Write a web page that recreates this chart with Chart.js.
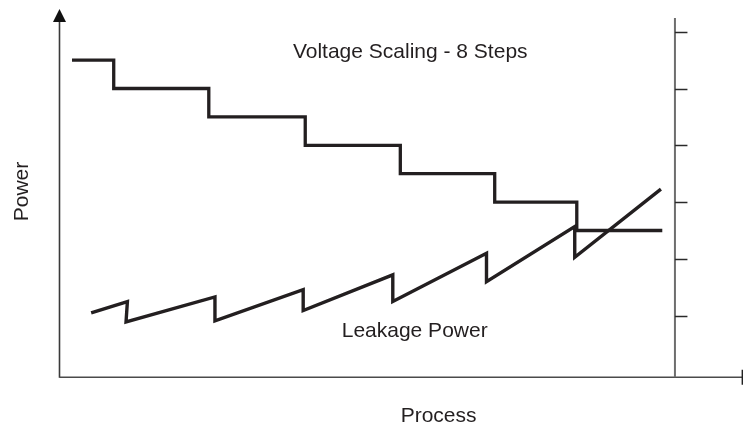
<!DOCTYPE html>
<html>
<head>
<meta charset="utf-8">
<script src="https://cdn.jsdelivr.net/npm/chart.js@4"></script>
<style>
  html, body { margin: 0; padding: 0; background: #ffffff; }
  #wrap { width: 744px; height: 430px; }
</style>
</head>
<body>
<div id="wrap"><canvas id="c" width="744" height="430"></canvas></div>
<script>
// ---- data (x: process, 0..100 along the x axis; y: power, in right-axis tick units) ----
const voltageX = [1.9, 8.0, 21.9, 36.0, 49.9, 63.7, 75.7, 88.2];
const voltageY = [5.5, 5.0, 4.5, 4.0, 3.5, 3.0, 2.5, 2.5];

const leakX = [4.7, 10.0, 9.8, 22.8, 22.8, 35.7, 35.7, 48.8, 48.8, 62.5, 62.5, 75.4, 75.4, 88.0];
const leakY = [1.05, 1.25, 0.89, 1.33, 0.91, 1.46, 1.09, 1.72, 1.25, 2.10, 1.60, 2.57, 2.03, 3.23];

const rightAxisX = 90.05;
const rightAxisTop = 6.24;
const rightTicks = [1, 2, 3, 4, 5, 6];

const titleText = 'Voltage Scaling - 8 Steps';
const leakText = 'Leakage Power';
const xTitle = 'Process';
const yTitle = 'Power';

const FONT = '"Liberation Sans", Arial, Helvetica, sans-serif';
const INK = '#231f20';

function pts(xs, ys) { return xs.map((x, i) => ({ x: x, y: ys[i] })); }

const decor = {
  id: 'decor',
  afterDraw(chart) {
    const ctx = chart.ctx;
    const xs = chart.scales.x, ys = chart.scales.y;
    const X = v => xs.getPixelForValue(v);
    const Y = v => ys.getPixelForValue(v);
    const a = chart.chartArea;
    ctx.save();
    ctx.lineCap = 'butt';

    // left axis with arrow
    const lx = a.left + 0.5;
    ctx.strokeStyle = '#3a3a3a';
    ctx.lineWidth = 1.6;
    ctx.beginPath();
    ctx.moveTo(lx, a.bottom + 0.8);
    ctx.lineTo(lx, a.top + 12);
    ctx.stroke();
    ctx.fillStyle = '#111';
    ctx.beginPath();
    ctx.moveTo(lx, a.top);
    ctx.lineTo(lx - 6.5, a.top + 13);
    ctx.lineTo(lx + 6.5, a.top + 13);
    ctx.closePath();
    ctx.fill();

    // bottom axis
    const by = a.bottom + 0.3;
    ctx.strokeStyle = '#4a4a4a';
    ctx.lineWidth = 1.6;
    ctx.beginPath();
    ctx.moveTo(lx, by);
    ctx.lineTo(a.right, by);
    ctx.stroke();
    ctx.strokeStyle = '#222';
    ctx.lineWidth = 1.4;
    ctx.beginPath();
    ctx.moveTo(a.right - 0.7, by - 7.5);
    ctx.lineTo(a.right - 0.7, by + 7.5);
    ctx.stroke();

    // right axis
    const rx = X(rightAxisX);
    ctx.strokeStyle = '#6e6e6e';
    ctx.lineWidth = 2;
    ctx.beginPath();
    ctx.moveTo(rx, Y(rightAxisTop));
    ctx.lineTo(rx, by);
    ctx.stroke();
    ctx.strokeStyle = '#2a2a2a';
    ctx.lineWidth = 1.5;
    rightTicks.forEach(t => {
      const ty = Math.round(Y(t)) + 0.5;
      ctx.beginPath();
      ctx.moveTo(rx, ty);
      ctx.lineTo(rx + 12.5, ty);
      ctx.stroke();
    });

    // texts
    ctx.fillStyle = INK;
    ctx.font = '21px ' + FONT;
    ctx.textAlign = 'center';
    ctx.textBaseline = 'alphabetic';
    ctx.fillText(titleText, X(51.35), Y(5.546));
    ctx.fillText(leakText, X(52.0), Y(0.634));
    ctx.fillText(xTitle, X(55.5), Y(-0.871));
    ctx.save();
    ctx.translate(X(-4.49), Y(3.187));
    ctx.rotate(-Math.PI / 2);
    ctx.fillText(yTitle, 0, 0);
    ctx.restore();

    ctx.restore();
  }
};

new Chart(document.getElementById('c'), {
  type: 'line',
  data: {
    datasets: [
      {
        label: 'Voltage Scaling',
        data: pts(voltageX, voltageY),
        stepped: 'before',
        borderColor: INK,
        borderWidth: 3.3,
        borderJoinStyle: 'miter',
        borderCapStyle: 'butt',
        pointRadius: 0,
        fill: false,
        tension: 0
      },
      {
        label: 'Leakage Power',
        data: pts(leakX, leakY),
        borderColor: INK,
        borderWidth: 3.4,
        borderJoinStyle: 'miter',
        borderCapStyle: 'butt',
        pointRadius: 0,
        fill: false,
        tension: 0
      }
    ]
  },
  options: {
    responsive: false,
    animation: false,
    devicePixelRatio: 1,
    layout: { padding: { left: 59, right: 1, top: 9, bottom: 53 } },
    plugins: { legend: { display: false }, title: { display: false }, tooltip: { enabled: false } },
    scales: {
      x: { type: 'linear', min: 0, max: 100, display: false },
      y: { type: 'linear', min: -0.079, max: 6.4, display: false }
    }
  },
  plugins: [decor]
});
</script>
</body>
</html>
